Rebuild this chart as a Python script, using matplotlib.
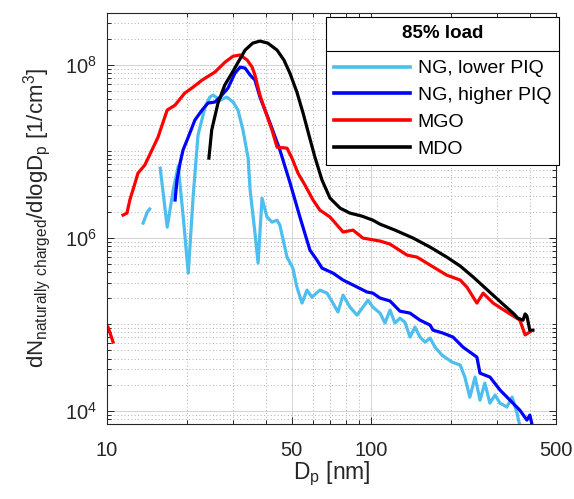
import numpy as np
import matplotlib
matplotlib.use('Agg')
import matplotlib.pyplot as plt
from matplotlib.ticker import LogLocator, NullFormatter, FixedLocator
from matplotlib.lines import Line2D

plt.rcParams['font.family'] = ['Liberation Sans', 'DejaVu Sans']
plt.rcParams['mathtext.default'] = 'regular'

nan = np.nan

# ---- data ----
ng_lower_dp = [13.7, 14.2, 14.5, 15.2, 15.9, 16.9, 17.8, 18.6, 19.4, 20.3, 21.2, 22.1, 23.5, 24.5,
               25.2, 26.8, 28.4, 30.0, 31.3, 32.7, 34.2, 34.8, 36.3, 37.3, 38.6, 40.3, 42.1, 44.0,
               45.1, 48.0, 50.5, 52.3, 54.7, 57.1, 59.6, 63.9, 68.0, 71.6, 74.8, 78.2, 83.1, 88.3,
               93.0, 97.2, 101.4, 107.9, 112.7, 117.7, 122.9, 128.4, 134.1, 140.1, 146.3, 152.9,
               159.7, 167, 174.2, 185.1, 202, 217, 226, 236, 247, 258, 269, 281, 294, 307, 326,
               341, 356, 365]
ng_lower_n = [1.47e6, 1.97e6, 2.14e6, nan, 6.35e6, 1.32e6, 3.54e6, 6.71e6, 1.82e6, 3.89e5, 3.10e6,
              1.53e7, 3.23e7, 4.21e7, 4.44e7, 3.89e7, 4.21e7, 3.69e7, 2.98e7, 1.75e7, 8.3e6, 3.54e6,
              1.13e6, 5.07e5, 2.86e6, 1.73e6, 1.51e6, 1.59e6, 1.39e6, 5.95e5, 4.44e5, 2.68e5, 1.75e5,
              2.47e5, 2.05e5, 2.47e5, 2.28e5, 1.75e5, 1.38e5, 2.16e5, 1.57e5, 1.27e5, 1.57e5, 1.89e5,
              1.57e5, 1.34e5, 1.03e5, 1.45e5, 1.03e5, 1.17e5, 1.05e5, 7.08e4, 9.23e4, 7.08e4, 6.19e4,
              6.89e4, 5.42e4, 4.38e4, 3.64e4, 3.36e4, 2.44e4, 1.43e4, 2.44e4, 1.32e4, 2.08e4, 1.22e4,
              1.51e4, 1.22e4, 1.10e4, 1.43e4, 9.35e3, 6.62e3]

ng_higher_dp = [18.1, 18.4, 18.9, 19.4, 20.3, 21.5, 22.9, 24.1, 25.6, 26.8, 28.7, 30.5, 31.9, 33.3,
                34.8, 36.3, 37.9, 41.4, 45.1, 49.3, 53.7, 58.6, 62.3, 65.1, 71.6, 78.2, 85.3, 96.3,
                101.4, 107.9, 117.7, 128.4, 140.1, 152.9, 167, 171.1, 186.7, 203.8, 222.3, 251, 257.8,
                281.3, 306.9, 334.9, 365, 388, 398, 405.5]
ng_higher_n = [2.72e6, 4.62e6, 7.27e6, 1.03e7, 1.45e7, 2.28e7, 2.98e7, 3.59e7, 3.69e7, 4.21e7, 5.35e7,
               7.98e7, 9.35e7, 9.12e7, 7.56e7, 6.62e7, 4.21e7, 2.11e7, 1.03e7, 4.27e6, 1.73e6, 7.16e5,
               5.49e5, 4.44e5, 3.89e5, 3.23e5, 2.83e5, 2.35e5, 2.28e5, 2.00e5, 1.85e5, 1.41e5, 1.34e5,
               1.11e5, 9.73e4, 8.52e4, 7.87e4, 7.08e4, 5.42e4, 4.15e4, 2.71e4, 2.44e4, 1.73e4, 1.32e4,
               1.01e4, 7.77e3, 8.87e3, 6.98e3]

mgo_dp = [10.09, 10.27, 10.54, 11.0, 11.5, 11.9, 12.2, 12.7, 13.1, 13.9, 14.8, 15.6, 16.3, 16.9,
          18.1, 19.7, 21.2, 22.9, 25.6, 28.0, 30.0, 31.9, 33.9, 35.4, 36.3, 37.9, 39.6, 42.1, 44.0,
          48.0, 50.1, 52.8, 56.1, 60.2, 63.9, 69.8, 78.2, 85.3, 93.0, 107.9, 117.7, 136.5, 148.9,
          167, 193, 217, 230, 251, 265, 289, 326, 365, 382, 398]
mgo_n = [9.2e4, 7.9e4, 6.2e4, nan, 1.82e6, 1.92e6, 2.72e6, 4.05e6, 5.57e6, 6.89e6, 1.03e7, 1.45e7,
         2.16e7, 2.98e7, 3.40e7, 4.69e7, 5.50e7, 6.62e7, 8.19e7, 1.07e8, 1.25e8, 1.29e8, 1.13e8,
         9.35e7, 7.56e7, 4.44e7, 2.98e7, 1.75e7, 1.11e7, 1.08e7, 8.3e6, 5.57e6, 4.05e6, 2.72e6,
         2.08e6, 1.73e6, 1.16e6, 1.22e6, 9.87e5, 9.12e5, 8.41e5, 6.28e5, 5.95e5, 4.81e5, 3.68e5,
         3.23e5, 2.68e5, 1.75e5, 2.28e5, 1.75e5, 1.38e5, 1.11e5, 7.5e4, 8.1e4]

mdo_dp = [24.3, 24.9, 26.3, 27.9, 29.7, 33.3, 35.6, 37.9, 40.6, 44.0, 46.7, 49.2, 52.3, 55.2, 58.1,
          61.2, 65.1, 69.8, 76.2, 83.0, 92.2, 101.4, 107.9, 123, 144, 167, 193, 217, 243, 265, 289,
          315, 344, 359, 375, 382, 388, 398, 409]
mdo_n = [8.3e6, 1.75e7, 3.59e7, 5.8e7, 7.98e7, 1.47e8, 1.77e8, 1.87e8, 1.77e8, 1.47e8, 1.13e8, 7.98e7,
         4.81e7, 2.75e7, 1.53e7, 8.5e6, 4.62e6, 2.86e6, 2.19e6, 1.92e6, 1.77e6, 1.59e6, 1.43e6, 1.22e6,
         9.87e5, 7.76e5, 5.95e5, 4.69e5, 3.50e5, 2.75e5, 2.16e5, 1.70e5, 1.34e5, 1.17e5, 1.11e5,
         1.31e5, 1.24e5, 8.5e4, 8.5e4]

series_labels = ['NG, lower PIQ', 'NG, higher PIQ', 'MGO', 'MDO']
series_colors = ['#4DBEEE', '#0000FF', '#FF0000', '#000000']
legend_title = '85% load'

x_ticks = [10, 50, 100, 500]
x_ticklabels = ['10', '50', '100', '500']
x_minor = [20, 30, 40, 60, 70, 80, 90, 200, 300, 400]
y_ticks = [1e4, 1e6, 1e8]

# ---- figure ----
fig = plt.figure(figsize=(5.74, 4.99), dpi=100)
ax = fig.add_axes([107 / 574, 1 - 424 / 499, 449 / 574, 411.5 / 499])
ax.set_xscale('log')
ax.set_yscale('log')

data = [(ng_lower_dp, ng_lower_n), (ng_higher_dp, ng_higher_n), (mgo_dp, mgo_n), (mdo_dp, mdo_n)]
for (dp, n), lab, col in zip(data, series_labels, series_colors):
    ax.plot(dp, n, color=col, lw=2.3, label=lab, solid_joinstyle='round')

ax.set_xlim(10, 500)
ax.set_ylim(7e3, 4e8)
ax.xaxis.set_major_locator(FixedLocator(x_ticks))
ax.set_xticklabels(x_ticklabels)
ax.xaxis.set_minor_locator(FixedLocator(x_minor))
ax.xaxis.set_minor_formatter(NullFormatter())
ax.yaxis.set_major_locator(FixedLocator(y_ticks))
ax.yaxis.set_minor_locator(LogLocator(base=10, subs=np.arange(1, 10), numticks=30))
ax.yaxis.set_minor_formatter(NullFormatter())

ax.grid(True, which='major', color='#d4d4d4', lw=0.7, ls='-')
ax.grid(True, which='minor', color='#b0b0b0', lw=0.7, ls=(0, (1, 2.5)))
ax.set_axisbelow(True)

dark = '#262626'
ax.tick_params(which='both', direction='in', top=True, right=True, color=dark,
               labelcolor=dark, labelsize=14.5, width=0.7)
ax.tick_params(which='major', length=5)
ax.tick_params(which='minor', length=3)
ax.tick_params(axis='x', pad=12)
ax.tick_params(axis='y', pad=7)
for s in ax.spines.values():
    s.set_color(dark)
    s.set_linewidth(0.8)

ax.set_xlabel('D$_p$ [nm]', fontsize=16.5, color=dark, labelpad=0)
ax.set_ylabel('dN$_{naturally\\ charged}$/dlogD$_p$ [1/cm$^3$]', fontsize=16, color=dark, labelpad=9)

leg = ax.legend(loc='upper right', bbox_to_anchor=(1.007, 0.989), borderaxespad=0,
                fontsize=14, title=legend_title, title_fontproperties={'weight': 'bold', 'size': 13.5},
                frameon=True, fancybox=False, framealpha=1, edgecolor='#000000',
                handlelength=3.9, handletextpad=0.4, labelspacing=0.47, borderpad=0.4)
leg.get_frame().set_linewidth(0.8)
for h in leg.legend_handles:
    h.set_linewidth(2.6)
leg._legend_box.sep = 13.0

fig.canvas.draw()
fb = leg.get_frame().get_window_extent()
tb = leg.get_title().get_window_extent()
t1 = leg.get_texts()[0].get_window_extent()
ysep = (tb.y0 + t1.y1) / 2
inv = fig.transFigure.inverted()
(x0, y0) = inv.transform((fb.x0, ysep))
(x1, _) = inv.transform((fb.x1, ysep))
fig.add_artist(Line2D([x0, x1], [y0, y0], transform=fig.transFigure, color='#000000', lw=0.8, zorder=10))

fig.savefig('out.png', dpi=100)
